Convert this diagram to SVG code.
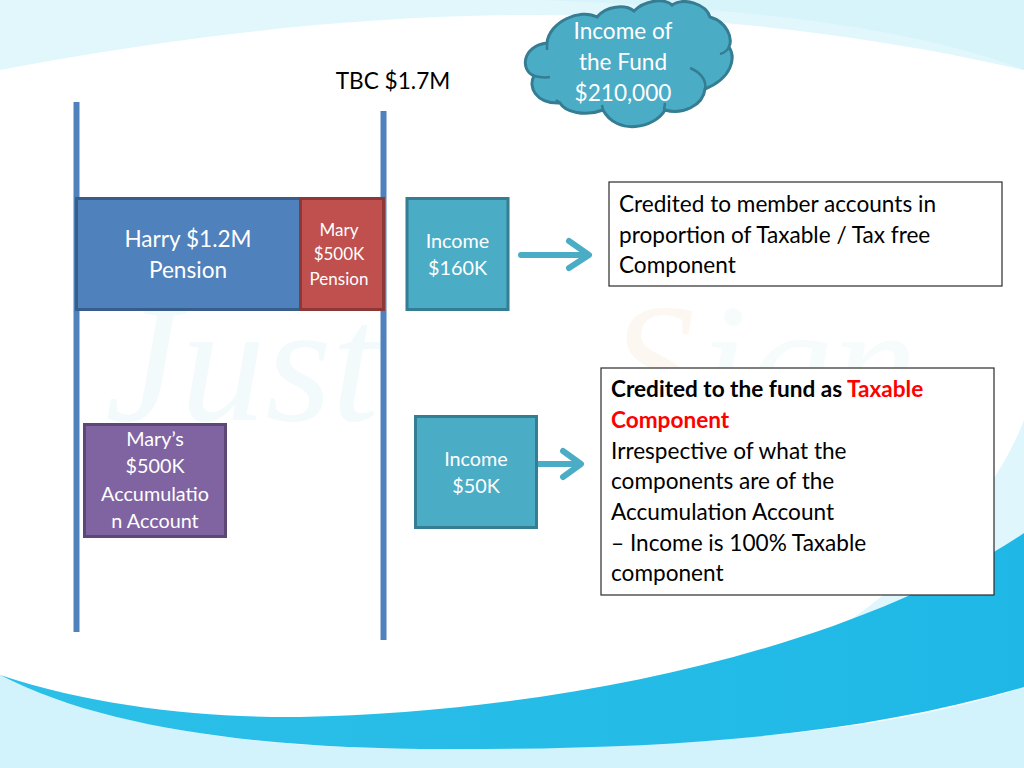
<svg xmlns="http://www.w3.org/2000/svg" width="1024" height="768" viewBox="0 0 1024 768">
<style>
text{font-family:Lato,"Liberation Sans",sans-serif}
.w{fill:#fff;text-anchor:middle}
.k{fill:#000;font-size:22.6px}
.box{fill:#fff;stroke:#2b2b2b;stroke-width:1.2}
</style>
<defs><linearGradient id="s" x1="0" x2="1" y1="0" y2="0"><stop offset="0" stop-color="#2cc0e8"/><stop offset="1" stop-color="#1fb8e6"/></linearGradient></defs>
<rect width="1024" height="768" fill="#fff"/>
<g id="background">
<path d="M0,0H1024V70C850,30 680,14 520,15C330,17 160,40 0,70Z" fill="#e2f7fc"/>
<path d="M540,0C760,8 920,30 1024,70V0Z" fill="#d8f4fb"/>
<path d="M0,675C120,735 300,752 460,748C700,745 880,735 1024,687V768H0Z" fill="#d2f3fb"/>
<path d="M1024,420C990,510 900,590 820,640L1024,600Z" fill="#dff6fc"/>
<path d="M0,675C100,708 210,718 300,717C560,712 850,650 1024,533V687C860,735 680,749 460,749C280,750 110,732 0,675Z" fill="url(#s)"/>
</g>
<g id="watermark" opacity="0.5">
<text x="105" y="420" font-size="170" font-style="italic" style="font-family:'Liberation Serif',serif" fill="#e6f6fa">Just</text>
<text x="610" y="420" font-size="170" font-style="italic" style="font-family:'Liberation Serif',serif" fill="#fdf0e4">S</text>
<text x="700" y="420" font-size="170" font-style="italic" style="font-family:'Liberation Serif',serif" fill="#eef8fa">ign</text>
</g>
<g id="connectors">
<line x1="76.500" y1="102" x2="76.500" y2="632" stroke="#4f81bd" stroke-width="6"/>
<line x1="383.500" y1="111" x2="383.500" y2="640" stroke="#4f81bd" stroke-width="6"/>
<path d="M521,255H587M569,241L589,255L569,268" fill="none" stroke="#4bacc6" stroke-width="6" stroke-linecap="round" stroke-linejoin="round"/>
<path d="M537,464H580M563,451L581,464L563,477" fill="none" stroke="#4bacc6" stroke-width="6" stroke-linecap="round" stroke-linejoin="round"/>
</g>
<g id="cloud">
<path d="M547,43C549,22 580,8 597,17C606,6 625,4 634,11C645,0 664,-2 672,5C684,-3 706,4 710,17C727,22 733,38 729,47C736,58 732,78 705,89C703,106 682,115 665,110C655,128 617,136 603,110C585,117 565,112 560,103C535,104 528,86 534,76C520,70 522,46 547,43Z" fill="#4bacc6" stroke="#357d92" stroke-width="3"/>
<path d="M729,47C727,51 724,53 720,54M705,89C707,80 700,72 690,68M665,103L664,110M603,110L602,105M560,103L556,100M534,76C538,77 544,78 550,77M547,43V50" fill="none" stroke="#357d92" stroke-width="2.500"/>
<text class="w" font-size="22.600" x="623" y="39">Income of</text>
<text class="w" font-size="22.600" x="623" y="70">the Fund</text>
<text class="w" font-size="22.600" x="623" y="101">$210,000</text>
</g>
<g id="tbc"><text x="393" y="89" font-size="22.600" text-anchor="middle" fill="#000">TBC $1.7M</text></g>
<g id="harry">
<rect x="76.500" y="198.500" width="224" height="111" fill="#4f81bd" stroke="#385d8a" stroke-width="3"/>
<text class="w" font-size="22.600" x="188" y="247">Harry $1.2M</text>
<text class="w" font-size="22.600" x="188" y="278">Pension</text>
</g>
<g id="mary-pension">
<rect x="300.500" y="198.500" width="83" height="111" fill="#c0504d" stroke="#8c3836" stroke-width="3"/>
<text class="w" font-size="17" x="339" y="236">Mary</text>
<text class="w" font-size="17" x="339" y="260">$500K</text>
<text class="w" font-size="17" x="339" y="285">Pension</text>
</g>
<g id="income-160">
<rect x="407" y="198.500" width="101" height="111" fill="#4bacc6" stroke="#357d92" stroke-width="3"/>
<text class="w" font-size="19.800" x="457.500" y="248">Income</text>
<text class="w" font-size="19.800" x="457.500" y="275">$160K</text>
</g>
<g id="mary-accumulation">
<rect x="84.500" y="424.500" width="141" height="112" fill="#8064a2" stroke="#5c4776" stroke-width="3"/>
<text class="w" font-size="19.800" x="155" y="446">Mary’s</text>
<text class="w" font-size="19.800" x="155" y="473">$500K</text>
<text class="w" font-size="19.800" x="155" y="501">Accumulatio</text>
<text class="w" font-size="19.800" x="155" y="528">n Account</text>
</g>
<g id="income-50">
<rect x="415.500" y="416.500" width="121" height="111" fill="#4bacc6" stroke="#357d92" stroke-width="3"/>
<text class="w" font-size="19.800" x="476" y="466">Income</text>
<text class="w" font-size="19.800" x="476" y="493">$50K</text>
</g>
<g id="note-1">
<rect class="box" x="609" y="182" width="393" height="104"/>
<text class="k" x="619" y="212">Credited to member accounts in</text>
<text class="k" x="619" y="243">proportion of Taxable / Tax free</text>
<text class="k" x="619" y="273">Component</text>
</g>
<g id="note-2">
<rect class="box" x="601" y="368" width="393" height="227"/>
<text class="k" x="611" y="397" font-weight="700">Credited to the fund as <tspan fill="#f00">Taxable</tspan></text>
<text class="k" x="611" y="428" font-weight="700" fill="#f00" style="fill:#f00">Component</text>
<text class="k" x="611" y="459">Irrespective of what the</text>
<text class="k" x="611" y="489">components are of the</text>
<text class="k" x="611" y="520">Accumulation Account</text>
<text class="k" x="611" y="551">– Income is 100%  Taxable</text>
<text class="k" x="611" y="581">component</text>
</g>
</svg>
